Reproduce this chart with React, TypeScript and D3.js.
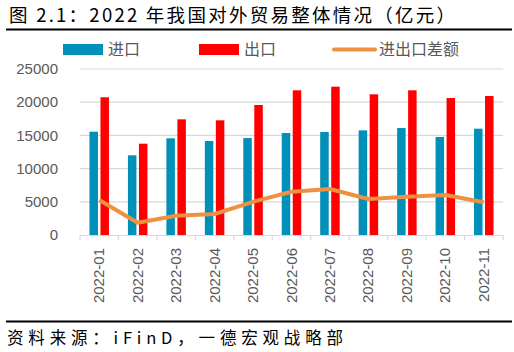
import React from 'react';
import * as d3 from 'd3';

const months = ['2022-01', '2022-02', '2022-03', '2022-04', '2022-05', '2022-06', '2022-07', '2022-08', '2022-09', '2022-10', '2022-11'];
const imports = [15560, 12000, 14560, 14160, 14600, 15360, 15510, 15760, 16110, 14760, 16010];
const exports = [20740, 13750, 17420, 17270, 19580, 21790, 22340, 21190, 21790, 20630, 20930];
const balance = [5270, 1850, 2900, 3160, 5000, 6520, 6930, 5420, 5770, 6020, 4920];
const yTicks = [0, 5000, 10000, 15000, 20000, 25000];

const W = 514;
const H = 352;
const BLUE = '#0090B8';
const RED = '#FF0000';
const ORANGE = '#EE9241';
const GRAY = '#595959';
const FONT = '"Noto Sans CJK SC", "Noto Sans", sans-serif';

const App = () => {
  const x = d3.scaleBand().domain(months).range([80, 503]).paddingInner(0).paddingOuter(0);
  const y = d3.scaleLinear().domain([0, 25000]).range([235, 69]);
  const bw = x.bandwidth();
  const barW = 8.5;
  const gap = 2.5;

  const line = d3.line<number>()
    .x((_, i) => (x(months[i]) as number) + bw / 2)
    .y(d => y(d));

  return (
    <svg width={W} height={H} style={{ position: 'absolute', left: 0, top: 0, background: '#fff' }} fontFamily={FONT}>
      <rect width={W} height={H} fill="#fff" />
      {/* title */}
      <text x={9} y={22} fontSize={18.5} fill="#000" textLength={446} lengthAdjust="spacing">图 2.1：2022 年我国对外贸易整体情况（亿元）</text>
      <line x1={6} x2={512} y1={29.5} y2={29.5} stroke="#000" strokeWidth={2} />

      {/* legend */}
      <rect x={63} y={44} width={40} height={11} fill={BLUE} />
      <text x={108} y={55} fontSize={16} fill={GRAY}>进口</text>
      <rect x={199} y={44} width={40} height={11} fill={RED} />
      <text x={244} y={55} fontSize={16} fill={GRAY}>出口</text>
      <line x1={334} x2={375} y1={49.5} y2={49.5} stroke={ORANGE} strokeWidth={4} strokeLinecap="round" />
      <text x={379} y={55} fontSize={16} fill={GRAY}>进出口差额</text>

      {/* grid */}
      {yTicks.filter(t => t > 0).map(t => (
        <line key={t} x1={80} x2={503} y1={y(t)} y2={y(t)} stroke="#d9d9d9" strokeWidth={1.2} />
      ))}
      {yTicks.map(t => (
        <text key={'l' + t} x={58} y={y(t)} dy="0.35em" textAnchor="end" fontSize={15} fill={GRAY}
          fontFamily='"Liberation Sans", Arial, sans-serif'>{t}</text>
      ))}

      {/* bars */}
      {months.map((m, i) => {
        const cx = (x(m) as number) + bw / 2;
        return (
          <g key={m}>
            <rect x={cx - gap / 2 - barW} y={y(imports[i])} width={barW} height={y(0) - y(imports[i])} fill={BLUE} />
            <rect x={cx + gap / 2} y={y(exports[i])} width={barW} height={y(0) - y(exports[i])} fill={RED} />
          </g>
        );
      })}

      {/* axis */}
      <line x1={80} x2={503} y1={235.5} y2={235.5} stroke="#d9d9d9" strokeWidth={1.2} />
      {d3.range(months.length + 1).map(i => {
        const xx = 80 + i * bw;
        return <line key={'t' + i} x1={xx} x2={xx} y1={235} y2={240} stroke="#d9d9d9" strokeWidth={1.2} />;
      })}
      {months.map(m => {
        const cx = (x(m) as number) + bw / 2;
        return (
          <text key={'x' + m} transform={`translate(${cx + 5},248) rotate(-90)`} textAnchor="end" fontSize={15} fill={GRAY}
            fontFamily='"Liberation Sans", Arial, sans-serif'>{m}</text>
        );
      })}

      {/* balance line */}
      <path d={line(balance) as string} fill="none" stroke={ORANGE} strokeWidth={4} strokeLinejoin="round" />

      {/* footer */}
      <line x1={6} x2={512} y1={321.5} y2={321.5} stroke="#000" strokeWidth={2} />
      <text x={7} y={344} fontSize={16.5} fill="#000" textLength={336} lengthAdjust="spacing">资料来源：iFinD，一德宏观战略部</text>
    </svg>
  );
};

export default App;
